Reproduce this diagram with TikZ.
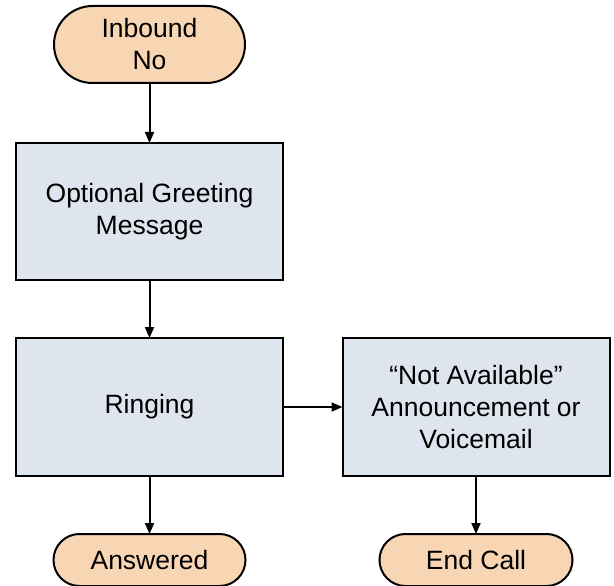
\documentclass[tikz,border=0pt]{standalone}
\usepackage{fontspec}
\setmainfont{Liberation Sans}
\usetikzlibrary{arrows.meta}
\definecolor{peach}{HTML}{F8D6B4}
\definecolor{boxfill}{HTML}{DFE5EE}
\begin{document}
\begin{tikzpicture}[x=1pt,y=-1pt,
  base/.style={draw=black,line width=2pt,inner sep=0pt,outer sep=0pt,align=center,font=\fontsize{26.5}{32}\selectfont},
  pill/.style={base,fill=peach,rounded corners=#1},
  stepbox/.style={base,fill=boxfill},
  conn/.style={line width=2pt,-{Triangle[length=11pt,width=9pt]}}]
\useasboundingbox (0,0) rectangle (614,586);
\node[pill=38.5pt,minimum width=191pt,minimum height=77pt] (inb) at (149.5,44.5) {Inbound\\No};
\node[stepbox,minimum width=267pt,minimum height=137pt] (greet) at (149.5,211.5) {Optional Greeting\\Message};
\node[stepbox,minimum width=267pt,minimum height=138pt] (ring) at (149.5,407) {Ringing};
\node[stepbox,minimum width=267pt,minimum height=138pt] (na) at (476,407) {“Not Available”\\Announcement or\\Voicemail};
\node[pill=26pt,minimum width=192pt,minimum height=52pt] (ans) at (149.5,560) {Answered};
\node[pill=26pt,minimum width=193pt,minimum height=52pt] (end) at (476,560) {End Call};
\draw[conn] (inb.south) -- (greet.north);
\draw[conn] (greet.south) -- (ring.north);
\draw[conn] (ring.east) -- (na.west);
\draw[conn] (ring.south) -- (ans.north);
\draw[conn] (na.south) -- (end.north);
\end{tikzpicture}
\end{document}
